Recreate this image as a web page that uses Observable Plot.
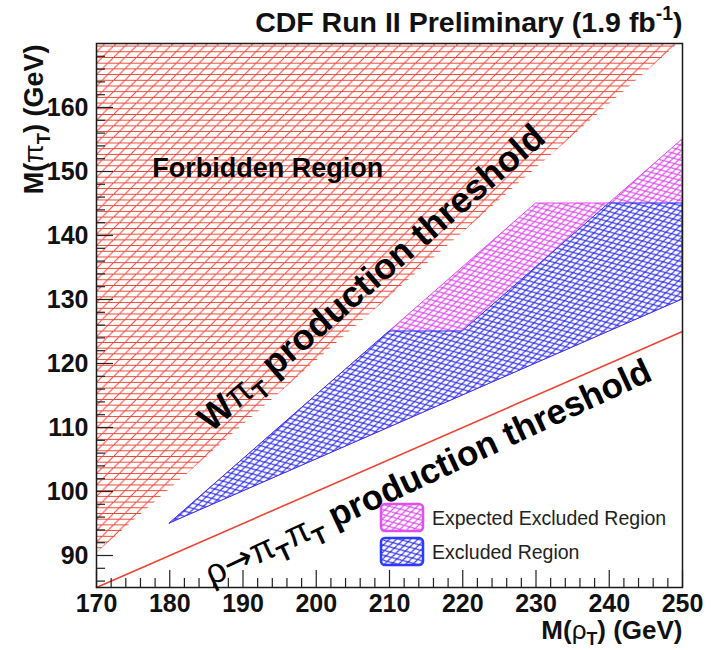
<!DOCTYPE html>
<html>
<head>
<meta charset="utf-8">
<script src="https://cdn.jsdelivr.net/npm/d3@7"></script>
<script src="https://cdn.jsdelivr.net/npm/@observablehq/plot@0.6"></script>
<style>
  body { margin: 0; background: #fff; }
  #chart svg { display: block; }
</style>
</head>
<body>
<div id="chart"></div>
<script>
// Axis ranges and labelled ticks
const xDomain = [170, 250];
const yDomain = [85, 170];
const xTicks = [170, 180, 190, 200, 210, 220, 230, 240, 250];
const yTicks = [90, 100, 110, 120, 130, 140, 150, 160];

// Kinematically forbidden: M(πT) above the W πT production threshold
const forbiddenX = [170, 249.5];
const forbiddenLow = [90.3, 170];
const forbiddenHigh = [170, 170];

// Expected excluded region
const expectedX = [180, 210, 230, 240, 250];
const expectedLow = [95, 110, 120, 125, 130];
const expectedHigh = [95, 125, 145, 145, 155];

// Observed excluded region
const excludedX = [180, 210, 220, 240, 250];
const excludedLow = [95, 110, 115, 125, 130];
const excludedHigh = [95, 125, 125, 145, 145];

// ρT → πT πT production threshold line
const rhoX = [170, 250];
const rhoY = [85, 125];

// Annotation texts (positions in GeV units)
const notes = [
  {text: "Forbidden Region", x: 177.6, y: 149.2, rotate: 0, size: 27, anchor: "start"},
  {text: "Wπ_{T} production threshold", x: 208.6, y: 132.0, rotate: -41, size: 36, anchor: "middle"},
  {text: "ρ→π_{T}π_{T} production threshold", x: 215.9, y: 101.4, rotate: -25, size: 35, anchor: "middle"}
];
const titleText = "CDF Run II Preliminary (1.9 fb^{-1})";
const xTitle = "M(ρ_{T}) (GeV)";
const yTitle = "M(π_{T}) (GeV)";
const legendItems = [
  {label: "Expected Excluded Region", pattern: "hatch-magenta", color: "#e050f0"},
  {label: "Excluded Region", pattern: "hatch-blue", color: "#2a3cff"}
];

const RED = "#ee4433", MAGENTA = "#df4cef", BLUE = "#3333ee";
const W = 712, H = 650;
const margin = {top: 43, right: 30, bottom: 63, left: 96};
const innerW = W - margin.left - margin.right;
const innerH = H - margin.top - margin.bottom;
const majorLen = 17, minorLen = 9;

const rows = (xs, lo, hi) => xs.map((x, i) => ({x, lo: lo[i], hi: hi[i]}));
const forbidden = rows(forbiddenX, forbiddenLow, forbiddenHigh);
const expected = rows(expectedX, expectedLow, expectedHigh);
const excluded = rows(excludedX, excludedLow, excludedHigh);
const rhoLine = rhoX.map((x, i) => ({x, y: rhoY[i]}));

const xMinor = d3.range(172, 250, 2).filter(d => d % 10 !== 0);
const yMinor = d3.range(86, 170, 2).filter(d => d % 10 !== 0);

const font = "'Liberation Sans', Arial, Helvetica, sans-serif";

const noteMark = d => Plot.text([d], {x: "x", y: "y", text: "text", rotate: "rotate",
  textAnchor: d.anchor, fontSize: d.size, fontWeight: "bold", lineAnchor: "bottom", fill: "#000"});

const plot = Plot.plot({
  width: W,
  height: H,
  marginTop: margin.top,
  marginRight: margin.right,
  marginBottom: margin.bottom,
  marginLeft: margin.left,
  style: {fontFamily: font, fontSize: "25px", fontWeight: "bold", color: "#111", background: "#fff"},
  x: {domain: xDomain, ticks: xTicks, tickSize: 0, tickPadding: 7, tickFormat: d => String(d), label: null},
  y: {domain: yDomain, ticks: yTicks, tickSize: 0, tickPadding: 8, tickFormat: d => String(d), label: null},
  marks: [
    Plot.areaY(forbidden, {x: "x", y1: "lo", y2: "hi", fill: "url(#hatch-red)"}),
    Plot.areaY(expected, {x: "x", y1: "lo", y2: "hi", fill: "url(#hatch-magenta)", stroke: MAGENTA, strokeWidth: 1}),
    Plot.areaY(excluded, {x: "x", y1: "lo", y2: "hi", fill: "white"}),
    Plot.areaY(excluded, {x: "x", y1: "lo", y2: "hi", fill: "url(#hatch-blue)", stroke: BLUE, strokeWidth: 1}),
    Plot.line(rhoLine, {x: "x", y: "y", stroke: RED, strokeWidth: 1.6}),
    // inward ticks on the bottom and left edges
    Plot.tickX(xTicks, {x: d => d, insetTop: innerH - majorLen, stroke: "#222", strokeWidth: 1.2}),
    Plot.tickX(xMinor, {x: d => d, insetTop: innerH - minorLen, stroke: "#222", strokeWidth: 1.2}),
    Plot.tickY(yTicks, {y: d => d, insetRight: innerW - majorLen, stroke: "#222", strokeWidth: 1.2}),
    Plot.tickY(yMinor, {y: d => d, insetRight: innerW - minorLen, stroke: "#222", strokeWidth: 1.2}),
    Plot.frame({stroke: "#1a1a1a", strokeWidth: 1.5}),
    ...notes.map(noteMark),
    Plot.text([titleText], {text: d => d, frameAnchor: "top-right", dy: -12, textAnchor: "end",
      lineAnchor: "bottom", fontSize: 28.5, fontWeight: "bold", fill: "#111"}),
    Plot.text([xTitle], {text: d => d, frameAnchor: "bottom-right", dy: 51, textAnchor: "end",
      lineAnchor: "bottom", fontSize: 26, fontWeight: "bold", fill: "#111"}),
    Plot.text([yTitle], {text: d => d, x: xDomain[0], y: yDomain[1], dx: -54, dy: 1, rotate: -90,
      textAnchor: "end", lineAnchor: "bottom", fontSize: 27, fontWeight: "bold", fill: "#111"})
  ]
});

document.getElementById("chart").appendChild(plot);

// Hatch patterns
const svg = d3.select(plot);
const defs = svg.insert("defs", ":first-child");
const red = defs.append("pattern").attr("id", "hatch-red")
  .attr("patternUnits", "userSpaceOnUse").attr("width", 11.4).attr("height", 11.4);
red.append("path").attr("d", "M0,0.5H11.4M0,6.2H11.4M-1,12.4L12.4,-1")
  .attr("stroke", RED).attr("stroke-width", 1).attr("fill", "none");

function mesh(id, color) {
  const w = 10, h = 5.6;
  const p = defs.append("pattern").attr("id", id)
    .attr("patternUnits", "userSpaceOnUse").attr("width", w).attr("height", h)
    .attr("patternTransform", "rotate(-14)");
  p.append("path").attr("d", `M-${w},${2 * h}L${2 * w},-${h}M-${w},-${h}L${2 * w},${2 * h}`)
    .attr("stroke", color).attr("stroke-width", 1.1).attr("fill", "none");
}
mesh("hatch-magenta", MAGENTA);
mesh("hatch-blue", BLUE);

// Legend
const leg = svg.append("g").attr("font-family", font).attr("font-size", 19.5)
  .attr("text-anchor", "start").attr("font-weight", "normal");
legendItems.forEach((d, i) => {
  const y0 = 504 + i * 34;
  leg.append("rect").attr("x", 381).attr("y", y0).attr("width", 42).attr("height", 27).attr("rx", 4)
    .attr("fill", "white").attr("stroke", d.color).attr("stroke-width", 2.5);
  leg.append("rect").attr("x", 382).attr("y", y0 + 1).attr("width", 40).attr("height", 25).attr("rx", 3)
    .attr("fill", `url(#${d.pattern})`).attr("stroke", "none");
  leg.append("text").attr("x", 432).attr("y", y0 + 21).attr("fill", "#222")
    .attr("text-anchor", "start").attr("font-weight", "normal").text(d.label);
});

// Sub/superscripts and Greek symbols in labels
const svgNS = "http://www.w3.org/2000/svg";
plot.querySelectorAll("text").forEach(el => {
  const src = el.textContent;
  if (!/[_^]\{|[ρπ→]/.test(src)) return;
  const fs = parseFloat(getComputedStyle(el).fontSize);
  el.textContent = "";
  let cur = 0;
  const tokens = src.split(/(_\{[^}]*\}|\^\{[^}]*\})/).filter(s => s);
  for (const tok of tokens) {
    let kind = "n", s = tok;
    if (tok.startsWith("_{")) { kind = "sub"; s = tok.slice(2, -1); }
    else if (tok.startsWith("^{")) { kind = "sup"; s = tok.slice(2, -1); }
    const target = kind === "sub" ? 0.26 * fs : kind === "sup" ? -0.42 * fs : 0;
    const pieces = s.split(/([ρπ→])/).filter(p => p);
    pieces.forEach((p, i) => {
      const t = document.createElementNS(svgNS, "tspan");
      t.textContent = p;
      if (i === 0 && target !== cur) { t.setAttribute("dy", target - cur); cur = target; }
      if (kind !== "n") t.setAttribute("font-size", 0.68 * fs);
      if (/[ρπ→]/.test(p)) t.setAttribute("font-weight", "normal");
      if (p === "→") t.setAttribute("font-family", "'DejaVu Sans', sans-serif");
      el.appendChild(t);
    });
  }
});
</script>
</body>
</html>
